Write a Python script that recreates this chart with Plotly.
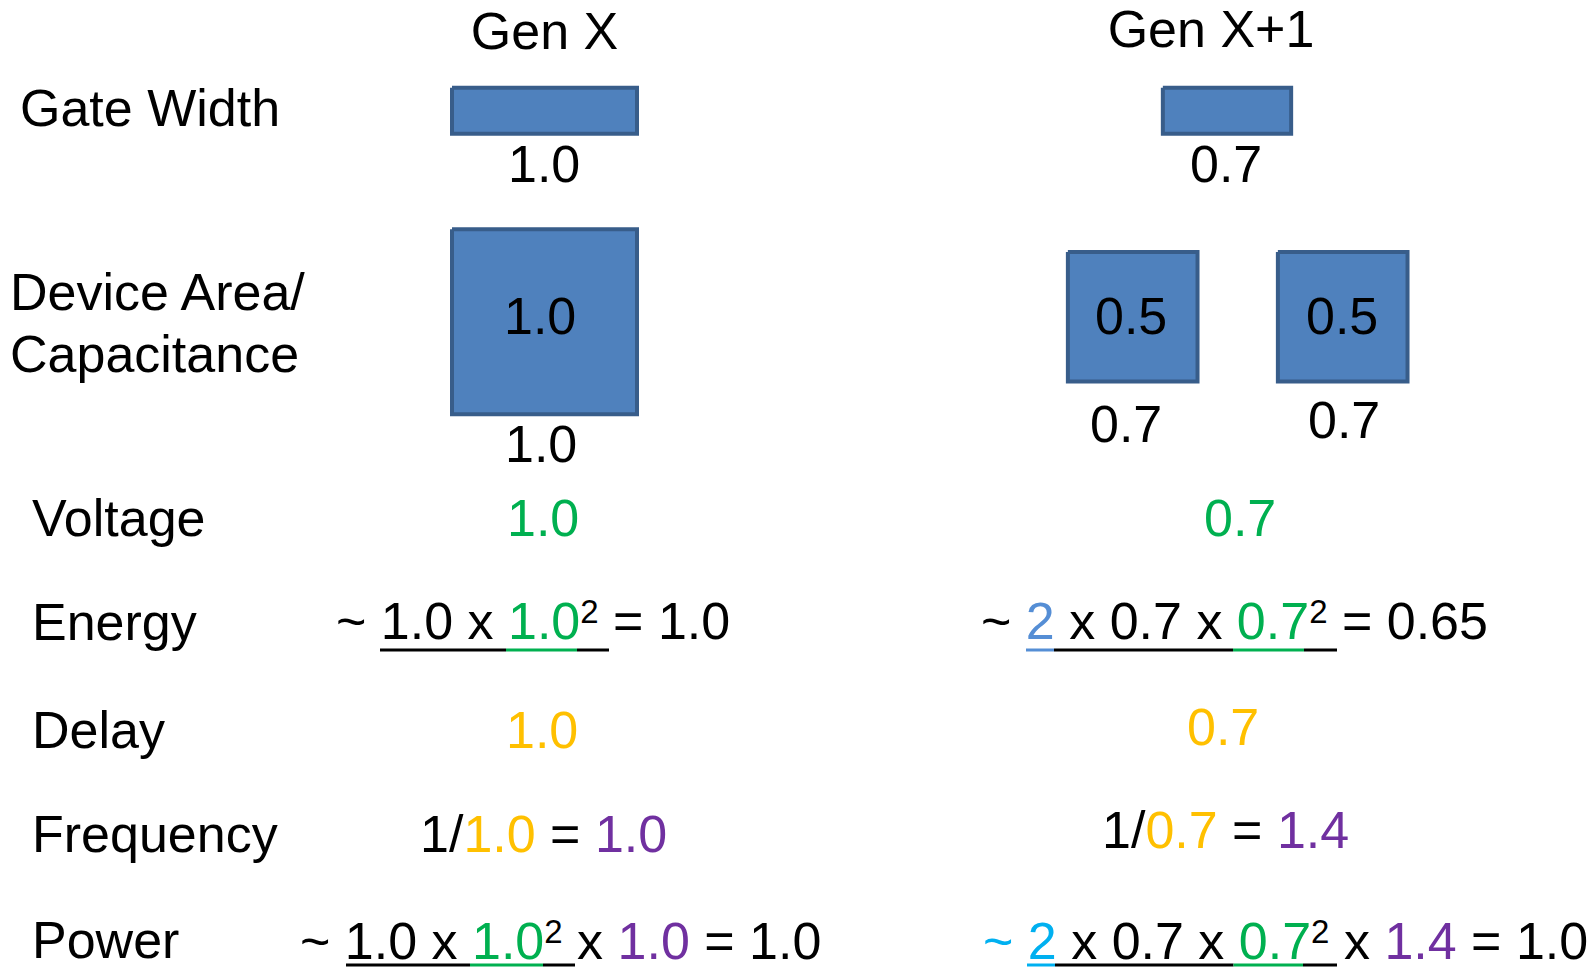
import math
import plotly.graph_objects as go

# ---------------- data ----------------
generations = ["Gen X", "Gen X+1"]
row_labels = ["Gate Width", "Device Area/", "Capacitance", "Voltage", "Energy", "Delay", "Frequency", "Power"]
gate_width = [1.0, 0.7]
device_area = [1.0, 0.5]        # per device
device_count = [1, 2]
device_side = [1.0, 0.7]        # labelled side length under squares
voltage = [1.0, 0.7]
energy = [1.0, 0.65]
delay = [1.0, 0.7]
frequency = [1.0, 1.4]
power = [1.0, 1.0]

# ---------------- style / layout constants ----------------
W, H = 1596, 970
FONT = "Liberation Sans, Arial, Helvetica, sans-serif"
FS = 52
BLACK = "#000000"
GREEN = "#00B050"
ORANGE = "#FFC000"
PURPLE = "#7030A0"
BLUE2 = "#558ED5"
CYAN = "#00B0F0"
FILL = "#4F81BD"
EDGE = "#385D8A"
UNIT = 189.0          # pixels per 1.0 of gate width / side
GATE_H = 50.0
col_x = [536.5, 1219.0]


def fmt(v):
    s = f"{v:.2f}".rstrip("0")
    return s + "0" if s.endswith(".") else s


def c(txt, col):
    return f"<span style='color:{col}'>{txt}</span>"


SUP2 = "<span style='font-size:33px;baseline-shift:16px'>2</span>"

fig = go.Figure()


def rect(cx, cy, w, h):
    x0, x1 = cx - w / 2 + 2, cx + w / 2 - 2
    y0, y1 = cy - h / 2 + 2, cy + h / 2 - 2
    fig.add_trace(go.Scatter(
        x=[x0, x1, x1, x0, x0], y=[y0, y0, y1, y1, y0], mode="lines",
        fill="toself", fillcolor=FILL, line=dict(color=EDGE, width=4),
        hoverinfo="skip", showlegend=False))


annotations = []


def text(x, y, t, size=FS, anchor="center", color=BLACK):
    annotations.append(dict(x=x, y=y, xref="x", yref="y", text=t, showarrow=False,
                            xanchor=anchor, yanchor="middle",
                            font=dict(family=FONT, size=size, color=color)))


# headers (text trace so the box hugs the glyphs near the top edge)
fig.add_trace(go.Scatter(
    x=[col_x[0], 1203], y=[28, 26], mode="text", text=generations,
    textposition="middle center", textfont=dict(family=FONT, size=FS, color=BLACK),
    cliponaxis=False, hoverinfo="skip", showlegend=False))

# row labels
label_pos = [(10, 100), (0, 284), (0, 346), (22, 510), (22, 614), (22, 722), (22, 826), (22, 932)]
for lab, (lx, ly) in zip(row_labels, label_pos):
    text(lx, ly, lab, anchor="left")

# gate width rectangles
gate_cy = 102.7
for i in range(2):
    rect(col_x[i], gate_cy, gate_width[i] * UNIT, GATE_H)
text(536, 156, fmt(gate_width[0]))
text(1218, 156, fmt(gate_width[1]))

# device area squares
sq_centers = [[(536.5, 313.7)], [(1124.7, 308.7), (1334.7, 308.7)]]
for i in range(2):
    side = math.sqrt(device_area[i]) * UNIT
    for (cx, cy) in sq_centers[i][:device_count[i]]:
        rect(cx, cy, side, side)
text(532, 308, fmt(device_area[0]))
text(1123, 308, fmt(device_area[1]))
text(1334, 308, fmt(device_area[1]))
text(532.5, 436, fmt(device_side[0]))
text(1118, 416, fmt(device_side[1]))
text(1336, 412, fmt(device_side[1]))

# voltage
text(534.5, 510, c(fmt(voltage[0]), GREEN))
text(1232, 510, c(fmt(voltage[1]), GREEN))

# energy
e0 = f"~ {fmt(gate_width[0])} x {c(fmt(voltage[0]), GREEN)}{SUP2} = {fmt(energy[0])}"
e1 = (f"~ {c(device_count[1], BLUE2)} x {fmt(gate_width[1])} x {c(fmt(voltage[1]), GREEN)}"
      f"{SUP2} = {fmt(energy[1])}")
text(326, 613, e0, anchor="left")
text(971, 613, e1, anchor="left")

# delay
text(534, 722, c(fmt(delay[0]), ORANGE))
text(1215, 719, c(fmt(delay[1]), ORANGE))

# frequency
text(535.5, 826, f"1/{c(fmt(delay[0]), ORANGE)} = {c(fmt(frequency[0]), PURPLE)}")
text(1217, 822, f"1/{c(fmt(delay[1]), ORANGE)} = {c(fmt(frequency[1]), PURPLE)}")

# power
p0 = (f"~ {fmt(gate_width[0])} x {c(fmt(voltage[0]), GREEN)}{SUP2} x "
      f"{c(fmt(frequency[0]), PURPLE)} = {fmt(power[0])}")
p1 = (f"{c('~ ' + str(device_count[1]), CYAN)} x {fmt(gate_width[1])} x {c(fmt(voltage[1]), GREEN)}"
      f"{SUP2} x {c(fmt(frequency[1]), PURPLE)} = {fmt(power[1])}")
text(290, 933, p0, anchor="left")
text(973, 933, p1, anchor="left")

# underlines (decorative)
shapes = []


def uline(y, segs):
    for x0, x1, col in segs:
        shapes.append(dict(type="line", xref="x", yref="y", x0=x0, x1=x1, y0=y, y1=y,
                           line=dict(color=col, width=3)))


uline(642, [(372, 498, BLACK), (498, 569, GREEN), (569, 601, BLACK)])
uline(642, [(1018, 1046, BLUE2), (1046, 1225, BLACK), (1225, 1296, GREEN), (1296, 1329, BLACK)])
uline(957, [(338, 462, BLACK), (462, 535, GREEN), (535, 567, BLACK)])
uline(957, [(1019, 1047, CYAN), (1047, 1225.5, BLACK), (1225.5, 1295, GREEN), (1295, 1329, BLACK)])

fig.update_layout(
    width=W, height=H, margin=dict(l=0, r=0, t=0, b=0),
    paper_bgcolor="white", plot_bgcolor="white",
    xaxis=dict(range=[0, W], visible=False, fixedrange=True),
    yaxis=dict(range=[H, 0], visible=False, fixedrange=True),
    annotations=annotations, shapes=shapes, showlegend=False,
)

fig.write_html("out.html")
